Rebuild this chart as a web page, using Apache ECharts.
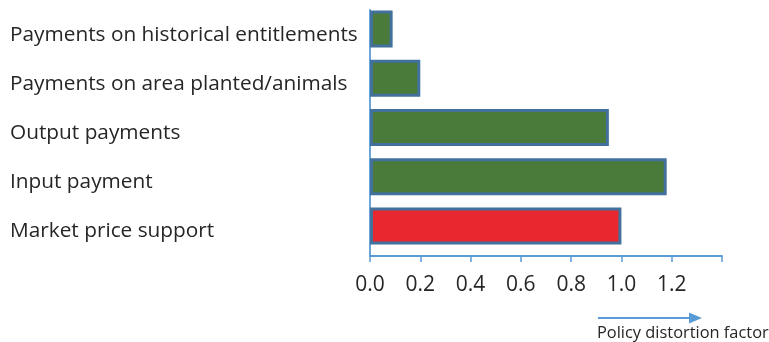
<!DOCTYPE html>
<html>
<head>
<meta charset="utf-8">
<script src="https://cdn.jsdelivr.net/npm/echarts@6/dist/echarts.min.js"></script>
<style>
html,body{margin:0;padding:0;background:#fff;}
#c{width:769px;height:342px;}
</style>
</head>
<body>
<div id="c"></div>
<script>
// Categories listed bottom to top
const categories = ['Market price support', 'Input payment', 'Output payments', 'Payments on area planted/animals', 'Payments on historical entitlements'];
const values = [1.0, 1.18, 0.95, 0.2, 0.09];
const barColors = ['#e8282e', '#4a7b3a', '#4a7b3a', '#4a7b3a', '#4a7b3a'];
const tickLabels = ['0.0', '0.2', '0.4', '0.6', '0.8', '1.0', '1.2'];
const axisName = 'Policy distortion factor';

const chart = echarts.init(document.getElementById('c'), null, {renderer: 'canvas'});
const font = '"Open Sans", "Noto Sans", sans-serif';
chart.setOption({
  animation: false,
  grid: {left: 370, right: 47, top: 10, bottom: 86, containLabel: false},
  xAxis: {
    type: 'value', min: 0, max: 1.4, interval: 0.2,
    axisLine: {show: true, lineStyle: {color: '#5b9bd5', width: 1.8}},
    axisTick: {show: true, length: 6, lineStyle: {color: '#5b9bd5', width: 1.5}},
    splitLine: {show: false},
    axisLabel: {
      color: '#262626', fontSize: 21, fontFamily: font, margin: 19,
      formatter: function (v) {
        const s = v.toFixed(1);
        return tickLabels.indexOf(s) >= 0 ? s : '';
      }
    }
  },
  yAxis: {
    type: 'category', data: categories,
    axisLine: {show: true, lineStyle: {color: '#5b9bd5', width: 1.8}},
    axisTick: {show: false},
    axisLabel: {color: '#262626', fontSize: 20.8, fontFamily: font, align: 'left', margin: 360}
  },
  series: [
    {
      type: 'bar', barWidth: 37, barGap: '0%',
      data: values.map((v, i) => ({value: v, itemStyle: {color: barColors[i]}})),
      itemStyle: {borderColor: '#41719c', borderWidth: 3}
    },
    {
      type: 'bar', barWidth: 11,
      data: values.map(() => null),
      itemStyle: {color: 'transparent'}
    }
  ],
  graphic: [
    {type: 'line', shape: {x1: 598, y1: 318, x2: 691, y2: 318}, style: {stroke: '#5b9bd5', lineWidth: 2}},
    {type: 'polygon', shape: {points: [[702, 318], [689, 312.5], [689, 323.5]]}, style: {fill: '#5b9bd5'}},
    {type: 'text', left: 597, top: 325, style: {text: axisName, fill: '#262626', font: '16.4px ' + font}}
  ]
});
</script>
</body>
</html>
